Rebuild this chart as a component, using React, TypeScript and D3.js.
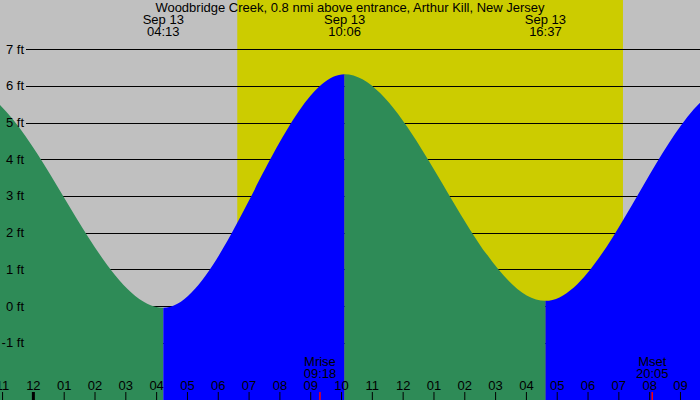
import * as d3 from "d3"

// tide extremes (two outside the visible window keep the curve shape at the edges)
const tideTimes = [
  "2024-09-12 15:20",
  "2024-09-12 21:45",
  "2024-09-13 04:13",
  "2024-09-13 10:06",
  "2024-09-13 16:37",
  "2024-09-13 22:40",
  "2024-09-14 05:00",
]
const tideHeights = [0.1, 6.0, -0.05, 6.32, 0.14, 6.0, 0.0]

const viewRange = ["2024-09-12 22:55", "2024-09-13 21:38"]
const sunTimes = ["2024-09-13 06:37", "2024-09-13 19:08"]
const moonLabels = ["Mrise", "Mset"]
const moonTimes = ["2024-09-13 09:18", "2024-09-13 20:05"]
const heightTicks = [-1, 0, 1, 2, 3, 4, 5, 6, 7]

const title = "Woodbridge Creek, 0.8 nmi above entrance, Arthur Kill, New Jersey"

const parse = d3.timeParse("%Y-%m-%d %H:%M")
const fmtDay = d3.timeFormat("%b %d")
const fmtTime = d3.timeFormat("%H:%M")
const fmtHour = d3.timeFormat("%I")

const width = 700
const height = 400
const font = "'Liberation Sans', Arial, sans-serif"
const fs = 13

export default function App() {
  const pts = tideTimes.map((t, i) => ({ t: parse(t) as Date, h: tideHeights[i] }))
  const domain = viewRange.map((t) => parse(t) as Date)

  const x = d3.scaleTime().domain(domain).range([0, width])
  const y = d3.scaleLinear().domain([0, 7]).range([306, 49.3])

  const area = d3
    .area<{ t: Date; h: number }>()
    .x((d) => x(d.t))
    .y0(height)
    .y1((d) => y(d.h))
    .curve(d3.curveMonotoneX)
  const tidePath = area(pts) || ""

  const segments = pts.slice(0, -1).map((p, i) => ({
    x0: x(p.t),
    x1: x(pts[i + 1].t),
    rising: pts[i + 1].h > p.h,
  }))

  const visible = pts.filter((p) => p.t >= domain[0] && p.t <= domain[1])
  const hours = d3.timeHour.range(domain[0], domain[1])
  const sun = sunTimes.map((t) => x(parse(t) as Date))

  return (
    <>
      <style>{`body{margin:0}`}</style>
      <svg width={width} height={height} style={{ display: "block", fontFamily: font }}>
        <rect x={0} y={0} width={width} height={height} fill="#c0c0c0" />
        <rect x={sun[0]} y={0} width={sun[1] - sun[0]} height={height} fill="#cccc00" />

        {heightTicks.map((v) => (
          <line
            key={v}
            x1={26}
            x2={width}
            y1={Math.round(y(v)) + 0.5}
            y2={Math.round(y(v)) + 0.5}
            stroke="#000"
            strokeWidth={1}
          />
        ))}

        <defs>
          {segments.map((s, i) => (
            <clipPath key={i} id={`seg-${i}`}>
              <rect x={s.x0} y={0} width={s.x1 - s.x0} height={height} />
            </clipPath>
          ))}
        </defs>
        {segments.map((s, i) => (
          <path key={i} d={tidePath} fill={s.rising ? "#0000ff" : "#2e8b57"} clipPath={`url(#seg-${i})`} />
        ))}

        {heightTicks.map((v) => (
          <text key={v} x={24} y={y(v) + 4.5} textAnchor="end" fontSize={fs} fill="#000">
            {v} ft
          </text>
        ))}

        <text x={width / 2} y={12} textAnchor="middle" fontSize={fs} fill="#000">
          {title}
        </text>

        {visible.map((p, i) => (
          <g key={i}>
            <text x={x(p.t)} y={24} textAnchor="middle" fontSize={fs} fill="#000">
              {fmtDay(p.t)}
            </text>
            <text x={x(p.t)} y={36} textAnchor="middle" fontSize={fs} fill="#000">
              {fmtTime(p.t)}
            </text>
          </g>
        ))}

        {moonTimes.map((t, i) => {
          const d = parse(t) as Date
          return (
            <g key={i}>
              <text x={x(d)} y={366} textAnchor="middle" fontSize={fs} fill="#000">
                {moonLabels[i]}
              </text>
              <text x={x(d)} y={378} textAnchor="middle" fontSize={fs} fill="#000">
                {fmtTime(d)}
              </text>
            </g>
          )
        })}

        {hours.map((h, i) => (
          <g key={i}>
            <text x={x(h)} y={390} textAnchor="middle" fontSize={fs} fill="#000">
              {fmtHour(h)}
            </text>
            <line
              x1={x(h)}
              x2={x(h)}
              y1={392}
              y2={height}
              stroke="#000"
              strokeWidth={h.getHours() === 0 ? 3 : 1}
            />
          </g>
        ))}

        {moonTimes.map((t, i) => {
          const d = parse(t) as Date
          return <line key={i} x1={x(d)} x2={x(d)} y1={392} y2={height} stroke="#ff0000" strokeWidth={1.5} />
        })}
      </svg>
    </>
  )
}
